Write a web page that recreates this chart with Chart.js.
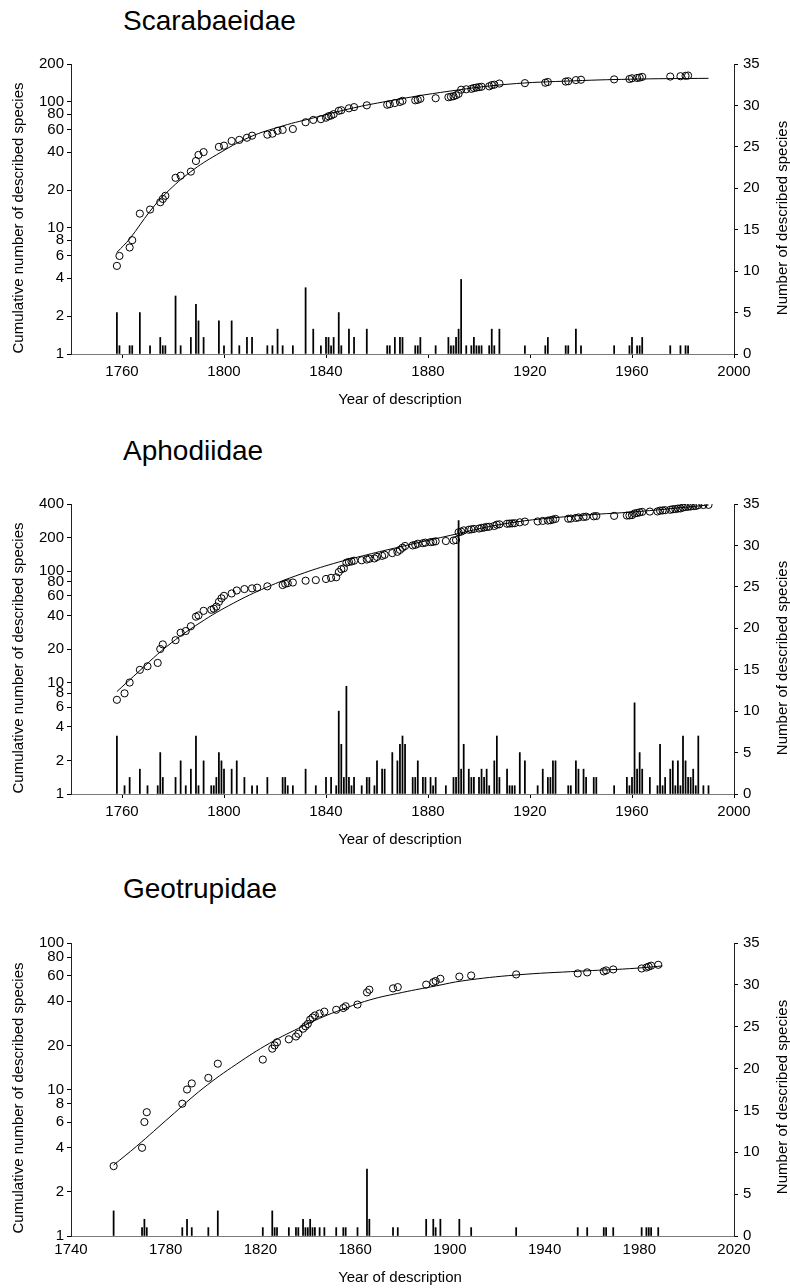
<!DOCTYPE html>
<html><head><meta charset="utf-8">
<script src="https://cdn.jsdelivr.net/npm/chart.js@4.4.0/dist/chart.umd.min.js"></script>
<style>
html,body{margin:0;padding:0;background:#fff;}
body{width:790px;height:1288px;position:relative;overflow:hidden;font-family:"Liberation Sans",Arial,sans-serif;color:#000;}
.ptitle{position:absolute;left:123px;font-size:28px;line-height:28px;white-space:nowrap;}
.xt{position:absolute;left:400px;font-size:15px;line-height:18px;white-space:nowrap;transform:translateX(-50%);}
.vt{position:absolute;font-size:15px;line-height:18px;white-space:nowrap;transform:translate(-50%,-50%) rotate(-90deg);}
.wrap{position:absolute;left:0;width:790px;}
canvas{display:block;}
</style></head>
<body>
<div class="ptitle" style="top:7px">Scarabaeidae</div>
<div class="ptitle" style="top:437px">Aphodiidae</div>
<div class="ptitle" style="top:875px">Geotrupidae</div>

<div class="wrap" style="top:40px;height:380px"><canvas id="c1" width="790" height="380"></canvas></div>
<div class="wrap" style="top:480px;height:380px"><canvas id="c2" width="790" height="380"></canvas></div>
<div class="wrap" style="top:920px;height:368px"><canvas id="c3" width="790" height="368"></canvas></div>

<div class="xt" style="top:390px">Year of description</div>
<div class="xt" style="top:830px">Year of description</div>
<div class="xt" style="top:1268px">Year of description</div>

<div class="vt" style="left:18px;top:218px">Cumulative number of described species</div>
<div class="vt" style="left:18px;top:658px">Cumulative number of described species</div>
<div class="vt" style="left:18px;top:1098px">Cumulative number of described species</div>
<div class="vt" style="left:782px;top:218px">Number of described species</div>
<div class="vt" style="left:782px;top:658px">Number of described species</div>
<div class="vt" style="left:782px;top:1097px">Number of described species</div>

<script>
// ---------- Scarabaeidae ----------
const scarabYears = [1758,1759,1763,1764,1767,1771,1775,1776,1777,1781,1783,1787,1789,1790,1792,1798,1800,1803,1806,1809,
  1811,1817,1819,1821,1823,1827,1832,1835,1838,1840,1841,1842,1843,1845,1846,1849,1851,1856,1864,1865,
  1867,1869,1870,1875,1876,1877,1883,1888,1889,1890,1891,1892,1893,1895,1897,1898,1899,1900,1901,1904,
  1905,1906,1908,1918,1926,1927,1934,1935,1938,1940,1953,1959,1960,1962,1963,1964,1975,1979,1981,1982];
const scarabCounts = [5,1,1,1,5,1,2,1,1,7,1,2,6,4,2,4,1,4,1,2,
  2,1,1,3,1,1,8,3,1,2,2,1,2,5,1,3,2,3,1,1,
  2,2,2,1,1,2,1,2,1,1,2,3,9,1,1,2,1,1,1,1,
  3,1,3,1,1,2,1,1,3,1,1,1,2,1,1,2,1,1,1,1];
const scarabCum = [5,6,7,8,13,14,16,17,18,25,26,28,34,38,40,44,45,49,50,52,
  54,55,56,59,60,61,69,72,73,75,77,78,80,85,86,89,91,94,95,96,
  98,100,102,103,104,106,107,109,110,111,113,116,125,126,127,129,130,131,132,133,
  136,137,140,141,142,144,145,146,149,150,151,152,154,155,156,158,159,160,161,162];
const scarabFitYears = [1758,1763,1771,1777.5,1787,1797,1810,1823,1836,1849,1862,1885,1911,1937,1963,1990];
const scarabFitVals  = [6.4,8.2,13.6,19.1,28,38,52.5,64.5,75.5,88,99.5,119,138,147,152,154];
const scarabLogTicks = [1,2,4,6,8,10,20,40,60,80,100,200];

// ---------- Aphodiidae ----------
const aphoYears = [1758,1761,1763,1767,1770,1774,1775,1776,1781,1783,1785,1787,1789,1790,1792,1795,1796,1797,1798,1799,
  1800,1803,1805,1808,1811,1813,1817,1823,1824,1825,1827,1832,1836,1840,1842,1844,1845,1846,1847,1848,
  1849,1850,1851,1854,1856,1857,1859,1860,1862,1863,1866,1868,1869,1870,1871,1874,1875,1876,1878,1879,
  1881,1882,1883,1887,1890,1891,1892,1893,1894,1896,1897,1898,1900,1901,1902,1903,1904,1906,1907,1908,
  1911,1912,1913,1914,1916,1918,1923,1925,1927,1928,1929,1930,1935,1936,1938,1939,1941,1942,1945,1946,
  1953,1958,1959,1960,1961,1962,1963,1964,1967,1970,1971,1972,1973,1975,1976,1977,1978,1979,1980,1981,
  1982,1983,1984,1985,1986,1988,1990];
const aphoCounts = [7,1,2,3,1,1,5,2,2,4,1,3,7,1,4,1,1,2,5,4,
  3,3,4,2,1,1,2,2,2,1,1,3,1,2,2,1,10,6,2,13,
  2,1,2,1,2,2,1,4,3,3,5,4,6,7,6,2,2,4,2,2,
  2,1,2,1,2,2,33,3,6,3,2,2,2,3,2,3,1,4,7,2,
  3,1,1,1,5,4,1,3,2,2,4,4,1,1,4,3,3,2,2,2,
  1,2,1,2,11,3,5,3,2,1,6,1,2,3,4,1,4,1,7,4,
  2,2,3,1,7,1,1];
const aphoCum = [7,8,10,13,14,15,20,22,24,28,29,32,39,40,44,45,46,48,53,57,
  60,63,67,69,70,71,73,75,77,78,79,82,83,85,87,88,98,104,106,119,
  121,122,124,125,127,129,130,134,137,140,145,149,155,162,168,170,172,176,178,180,
  182,183,185,186,188,190,223,226,232,235,237,239,241,244,246,249,250,254,261,263,
  266,267,268,269,274,278,279,282,284,286,290,294,295,296,300,303,306,308,310,312,
  313,315,316,318,329,332,337,340,342,343,349,350,352,355,359,360,364,365,372,376,
  378,380,383,384,391,392,393];
const aphoFitYears = [1758,1764.4,1777.5,1790.6,1803.6,1816.7,1829.8,1843,1856,1869,1885,1911,1937,1963,1990];
const aphoFitVals  = [8.3,11.3,21,34.4,51.4,71.5,93.5,117,140,165,200,268,312,343,392];
const aphoLogTicks = [1,2,4,6,8,10,20,40,60,80,100,200,400];

// ---------- Geotrupidae ----------
const geoYears = [1758,1770,1771,1772,1787,1789,1791,1798,1802,1821,1825,1826,1827,1832,1835,1836,1838,1839,1840,1841,
  1842,1843,1845,1847,1852,1855,1856,1861,1865,1866,1876,1878,1890,1893,1894,1896,1904,1909,1928,1954,
  1958,1965,1966,1969,1981,1983,1984,1985,1988];
const geoCounts = [3,1,2,1,1,2,1,1,3,1,3,1,1,1,1,1,2,1,1,2,
  1,1,1,1,1,1,1,1,8,2,1,1,2,2,1,2,2,1,1,1,
  1,1,1,1,1,1,1,1,1];
const geoCum = [3,4,6,7,8,10,11,12,15,16,19,20,21,22,23,24,26,27,28,30,
  31,32,33,34,35,36,37,38,46,48,49,50,52,54,55,57,59,60,61,62,
  63,64,65,66,67,68,69,70,71];
const geoFitYears = [1758,1767.7,1781.8,1795.8,1809.9,1823.9,1838,1845,1852,1866,1880,1894,1905.5,1928,1954.7,1975.8,1989.8];
const geoFitVals  = [3.05,4.1,6.5,10.2,14.9,20.7,27.1,30.6,34,40.8,46,50.9,55.2,60.5,64.2,66.8,69.7];
const geoLogTicks = [1,2,4,6,8,10,20,40,60,80,100];

const rightTicks = [0,5,10,15,20,25,30,35];
const xTicksA = [1760,1800,1840,1880,1920,1960,2000];
const xTicksB = [1740,1780,1820,1860,1900,1940,1980,2020];

Chart.defaults.font.family = '"Liberation Sans", Arial, sans-serif';
Chart.defaults.color = '#000';

function makeChart(id, p) {
  const font = {size: 15, lineHeight: 1.2};
  const padTop = p.plotTop - p.canvasTop;
  const xScaleH = p.canvasTop + p.canvasH - p.plotBottom;
  const labelPad = p.labelCenter - p.plotBottom - p.xTickLen - 9;
  return new Chart(document.getElementById(id), {
    type: 'scatter',
    data: {
      datasets: [
        {type: 'scatter', data: p.years.map((x, i) => ({x: x, y: p.cum[i]})), yAxisID: 'y',
         pointRadius: 3.6, pointBorderWidth: 1, borderColor: '#000', backgroundColor: 'rgba(0,0,0,0)',
         pointStyle: 'circle', order: 0},
        {type: 'line', data: p.fitYears.map((x, i) => ({x: x, y: p.fitVals[i]})), yAxisID: 'y',
         borderColor: '#000', borderWidth: 1, pointRadius: 0, fill: false, tension: 0.4, order: 1},
        {type: 'bar', data: p.years.map((x, i) => ({x: x, y: p.counts[i]})), yAxisID: 'y2',
         backgroundColor: '#000', borderWidth: 0, barThickness: 1.1, grouped: false, order: 2}
      ]
    },
    options: {
      responsive: false, animation: false, devicePixelRatio: 1,
      layout: {padding: {top: padTop, left: 0, right: 0, bottom: 0}},
      plugins: {legend: {display: false}, tooltip: {enabled: false}},
      scales: {
        x: {
          type: 'linear', min: p.xMin, max: p.xMax, offset: false,
          afterBuildTicks: s => { s.ticks = p.xTicks.map(v => ({value: v})); },
          afterFit: s => { s.height = xScaleH; },
          grid: {display: true, offset: false, drawOnChartArea: false, drawTicks: p.xTickLen > 0,
                 tickLength: p.xTickLen, color: '#000', lineWidth: 1},
          border: {display: true, color: '#7a7a7a', width: 1},
          ticks: {autoSkip: false, maxRotation: 0, minRotation: 0, padding: labelPad, font: font,
                  color: '#000', callback: v => String(v)},
          title: {display: false}
        },
        y: {
          type: 'logarithmic', position: 'left', min: 1, max: p.yMax,
          afterBuildTicks: s => { s.ticks = p.logTicks.map(v => ({value: v})); },
          afterFit: s => { s.width = 71; },
          grid: {display: true, drawOnChartArea: false, tickLength: 4, color: '#000', lineWidth: 1},
          border: {display: true, color: '#222', width: 1},
          ticks: {autoSkip: false, padding: 3, font: font, color: '#000', callback: v => String(v)},
          title: {display: false}
        },
        y2: {
          type: 'linear', position: 'right', min: 0, max: 35,
          afterBuildTicks: s => { s.ticks = rightTicks.map(v => ({value: v})); },
          afterFit: s => { s.width = 56; },
          grid: {display: true, drawOnChartArea: false, tickLength: 4, color: '#000', lineWidth: 1},
          border: {display: true, color: '#222', width: 1},
          ticks: {autoSkip: false, padding: 5, font: font, color: '#000', callback: v => String(v)},
          title: {display: false}
        }
      }
    }
  });
}

makeChart('c1', {years: scarabYears, counts: scarabCounts, cum: scarabCum,
  fitYears: scarabFitYears, fitVals: scarabFitVals, logTicks: scarabLogTicks, yMax: 200,
  xMin: 1740, xMax: 2000, xTicks: xTicksA, xTickLen: 4,
  canvasTop: 40, canvasH: 380, plotTop: 64, plotBottom: 354, labelCenter: 372});

makeChart('c2', {years: aphoYears, counts: aphoCounts, cum: aphoCum,
  fitYears: aphoFitYears, fitVals: aphoFitVals, logTicks: aphoLogTicks, yMax: 400,
  xMin: 1740, xMax: 2000, xTicks: xTicksA, xTickLen: 4,
  canvasTop: 480, canvasH: 380, plotTop: 504, plotBottom: 794, labelCenter: 812});

makeChart('c3', {years: geoYears, counts: geoCounts, cum: geoCum,
  fitYears: geoFitYears, fitVals: geoFitVals, logTicks: geoLogTicks, yMax: 100,
  xMin: 1740, xMax: 2020, xTicks: xTicksB, xTickLen: 0,
  canvasTop: 920, canvasH: 368, plotTop: 943, plotBottom: 1236, labelCenter: 1250});
</script>
</body></html>
